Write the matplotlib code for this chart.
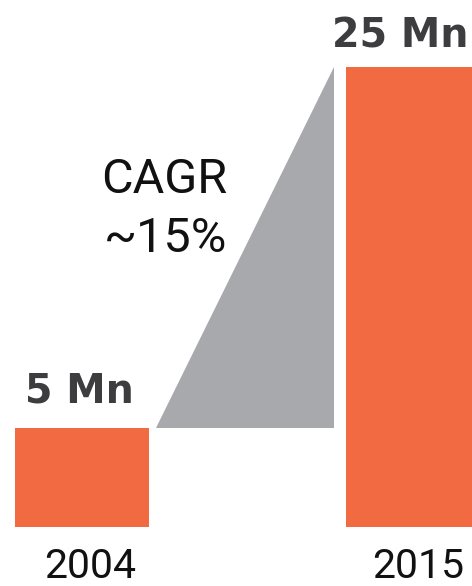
import matplotlib
matplotlib.use('Agg')
import matplotlib.pyplot as plt

years = ["2004", "2015"]
values = [5, 25]
value_labels = ["5 Mn", "25 Mn"]
cagr_text = ["CAGR", "~15%"]

bar_color = '#f26a42'
tri_color = '#a8a9ad'
label_color = '#3d3d40'
text_color = '#111111'

fig = plt.figure(figsize=(4.72, 5.86), dpi=100)
ax = fig.add_axes([0, 0, 1, 1])
ax.set_xlim(-0.248, 1.178)
ax.set_ylim(-3.75, 28.71)
ax.axis('off')

base = -0.48
x = [0, 1]
ax.bar(x, [v - base for v in values], bottom=base, width=0.405, color=bar_color)

# growth wedge between the two bars
ax.fill([0.224, 0.761, 0.761], [values[0], values[0], values[1]], color=tri_color, lw=0)

# value labels above bars
offsets = [(-3, 26), (-13, 19)]
for xi, v, lab, off in zip(x, values, value_labels, offsets):
    ax.annotate(lab, xy=(xi, v), xytext=off, textcoords='offset pixels',
                ha='center', va='baseline', fontsize=28.5, fontweight='bold',
                family='DejaVu Sans', color=label_color)

# year labels
year_off = [8, 5]
for xi, yr, dx in zip(x, years, year_off):
    ax.annotate(yr, xy=(xi, base), xytext=(dx, -51), textcoords='offset pixels',
                ha='center', va='baseline', fontsize=29.5, family='Roboto',
                color=text_color)

ax.text(0.438, 18.02, cagr_text[0], ha='right', va='baseline', fontsize=35,
        family='Roboto', color=text_color)
ax.text(0.438, 14.75, cagr_text[1], ha='right', va='baseline', fontsize=35,
        family='Roboto', color=text_color)

fig.savefig('out.png', dpi=100, facecolor='white')
